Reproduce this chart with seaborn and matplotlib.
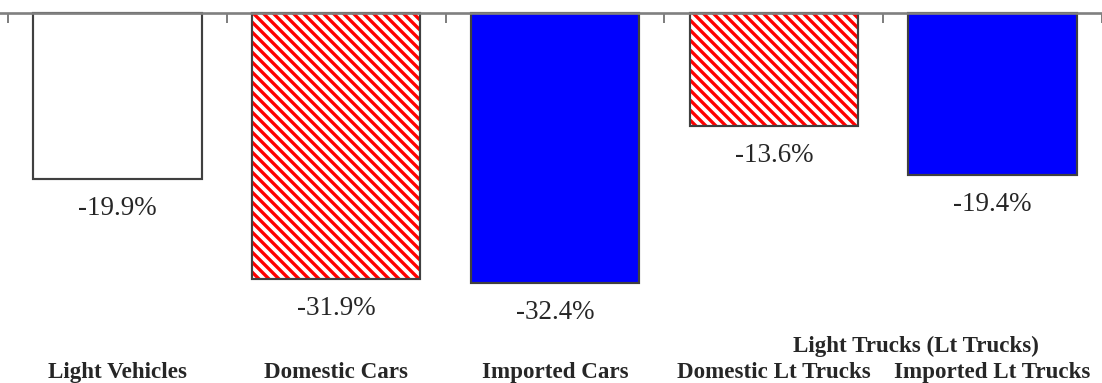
import numpy as np
import matplotlib
matplotlib.use('Agg')
import matplotlib.pyplot as plt
import seaborn as sns

# DADOS DO GRAFICO
categorias = ['Light Vehicles', 'Domestic Cars', 'Imported Cars',
              'Domestic Lt Trucks', 'Imported Lt Trucks']
variacao = [-19.9, -31.9, -32.4, -13.6, -19.4]
rotulos = ['-19.9%', '-31.9%', '-32.4%', '-13.6%', '-19.4%']
cores = ['#FFFFFF', '#FFFFFF', '#0000FF', '#FFFFFF', '#0000FF']
hachurado = [False, True, False, True, False]
titulo_grupo = 'Light Trucks (Lt Trucks)'

sns.set_style('white')
plt.rcParams['font.family'] = ['Liberation Serif', 'DejaVu Serif']
plt.rcParams['hatch.linewidth'] = 2.0

# DPI 120 PARA A HACHURA FICAR COM ~10 PX DE ESPACAMENTO
DPI = 120
fig = plt.figure(figsize=(1102 / DPI, 383 / DPI), dpi=DPI)
ax = fig.add_axes([0, 0, 1, 1])

# BARRAS PREENCHIDAS
sns.barplot(x=categorias, y=variacao, hue=categorias, palette=cores,
            legend=False, width=0.77, linewidth=0, saturation=1, ax=ax)

barras = ax.patches[:len(categorias)]
for barra, hach in zip(barras, hachurado):
    if hach:
        barra.set_hatch('\\' * 4)
        barra.set_edgecolor('#FF0000')
        barra.set_linewidth(0)

# CONTORNO DAS BARRAS
sns.barplot(x=categorias, y=variacao, fill=False, width=0.77,
            edgecolor='#404040', linewidth=1.3, ax=ax)

# ROTULOS DE VALOR
for i, (v, r) in enumerate(zip(variacao, rotulos)):
    ax.text(i, v - 3.5, r, ha='center', va='center', fontsize=16.2)

# ROTULOS DAS CATEGORIAS
for i, c in enumerate(categorias):
    ax.text(i, -43.1, c, ha='center', va='center', fontsize=13.8,
            fontweight='bold')
ax.text(3.65, -40.0, titulo_grupo, ha='center', va='center', fontsize=13.8,
        fontweight='bold')

# EIXOS
ax.set_xlim(-0.536, 4.473)
ax.set_ylim(-44.36, 1.56)
for s in ['left', 'right', 'bottom']:
    ax.spines[s].set_visible(False)
ax.spines['top'].set_position(('data', 0))
ax.spines['top'].set_color('#808080')
ax.spines['top'].set_linewidth(1.6)
ax.spines['top'].set_zorder(5)
ax.xaxis.set_ticks_position('top')
ax.set_xticks(np.arange(len(categorias) + 1) - 0.5)
ax.set_xticklabels([])
ax.tick_params(axis='x', direction='in', length=6, width=1.2,
               color='#808080', labeltop=False, labelbottom=False)
ax.set_yticks([])
ax.set_xlabel('')
ax.set_ylabel('')

plt.savefig('out.png', dpi=DPI)
